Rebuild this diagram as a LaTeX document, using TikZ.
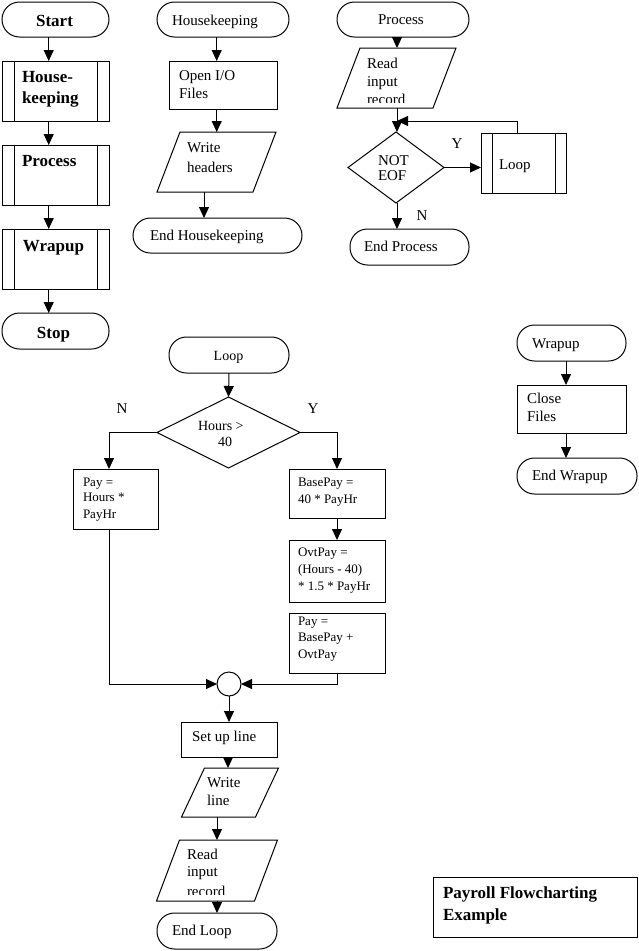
\documentclass[tikz,border=0pt]{standalone}
\usepackage{fontspec}
\setmainfont{Liberation Serif}
\usetikzlibrary{arrows.meta,calc}
\tikzset{
  ln/.style={line width=1pt},
  arr/.style={line width=1pt,-{Triangle[length=11pt,width=10pt]}},
  shp/.style={draw,line width=1pt,inner sep=0pt,outer sep=0pt},
  term/.style={shp,rounded corners=17.5pt},
  inv/.style={inner sep=0pt,outer sep=0pt},
  reg/.style={inner sep=0pt,outer sep=0pt,anchor=base west,font=\fontsize{15}{18}\selectfont},
  midt/.style={inner sep=0pt,outer sep=0pt,anchor=base west,font=\fontsize{14}{17}\selectfont},
  smt/.style={inner sep=0pt,outer sep=0pt,anchor=base west,font=\fontsize{13}{16}\selectfont},
  bld/.style={inner sep=0pt,outer sep=0pt,anchor=base west,font=\fontsize{17}{20}\selectfont\bfseries},
}
\newcommand\drawpara[1]{\draw[ln] ($(#1.north west)+(11.5,0)$) -- ($(#1.north east)+(11.5,0)$) -- ($(#1.south east)+(-11.5,0)$) -- ($(#1.south west)+(-11.5,0)$) -- cycle;}
\newcommand\drawdiam[1]{\draw[ln] (#1.north) -- (#1.east) -- (#1.south) -- (#1.west) -- cycle;}
\newcommand\drawpredef[2]{\draw[ln] ($(#1.north west)+(#2,0)$) -- ($(#1.south west)+(#2,0)$); \draw[ln] ($(#1.north east)+(-#2,0)$) -- ($(#1.south east)+(-#2,0)$);}
\begin{document}
\begin{tikzpicture}[x=1pt,y=-1pt]
\useasboundingbox (0,0) rectangle (639,951);
% ---------- x positions of connectors
\coordinate (xl) at (48.7,0);
\coordinate (xh) at (216.7,0);
\coordinate (xw) at (204,0);
\coordinate (xp) at (397,0);
\coordinate (xr) at (517,0);
\coordinate (xwr) at (566,0);
\coordinate (xn) at (109,0);
\coordinate (xy) at (337,0);
\coordinate (xs) at (228,0);
\coordinate (xrl) at (217,0);
\coordinate (ret) at (397,121);
% ---------- main column
\node[term,minimum width=107pt,minimum height=35pt] (start) at (55.5,19.5) {};
\node[shp,minimum width=107pt,minimum height=60pt] (phk) at (55.5,91) {};
\node[shp,minimum width=107pt,minimum height=60pt] (pproc) at (55.5,175) {};
\node[shp,minimum width=107pt,minimum height=60pt] (pwrap) at (55.5,259) {};
\node[term,minimum width=107pt,minimum height=36pt] (stop) at (55.5,331) {};
\drawpredef{phk}{12}
\drawpredef{pproc}{12}
\drawpredef{pwrap}{12}
\node[bld,anchor=base] (tstart) at (54.5,26.7) {Start};
\node[bld] (thk1) at (22,82.7) {House-};
\node[bld] (thk2) at (22,103.5) {keeping};
\node[bld] (tproc) at (22,166.7) {Process};
\node[bld] (twrap) at (23,251.7) {Wrapup};
\node[bld,anchor=base] (tstop) at (53.5,338) {Stop};
\draw[arr] (start.south -| xl) -- (phk.north -| xl);
\draw[arr] (phk.south -| xl) -- (pproc.north -| xl);
\draw[arr] (pproc.south -| xl) -- (pwrap.north -| xl);
\draw[arr] (pwrap.south -| xl) -- (stop.north -| xl);
% ---------- Housekeeping
\node[term,minimum width=132pt,minimum height=35pt] (hk) at (223,19.5) {};
\node[shp,minimum width=108pt,minimum height=48pt] (openio) at (223,85) {};
\node[inv,minimum width=96pt,minimum height=60pt] (wh) at (216.5,162) {};
\drawpara{wh}
\node[term,minimum width=169pt,minimum height=35pt] (ehk) at (217.5,235.5) {};
\node[reg] (thk) at (172,25) {Housekeeping};
\node[reg] (to1) at (179,80.7) {Open I/O};
\node[reg] (to2) at (179,98) {Files};
\node[reg] (tw1) at (187,152) {Write};
\node[reg] (tw2) at (187,172) {headers};
\node[reg] (tehk) at (150,240.7) {End Housekeeping};
\draw[arr] (hk.south -| xh) -- (openio.north -| xh);
\draw[arr] (openio.south -| xh) -- (wh.north -| xh);
\draw[arr] (wh.south -| xw) -- (ehk.north -| xw);
% ---------- Process
\node[term,minimum width=132pt,minimum height=35pt] (proc) at (403,19.5) {};
\node[inv,minimum width=96pt,minimum height=60pt] (rir1) at (396.5,78) {};
\drawpara{rir1}
\node[inv,minimum width=96pt,minimum height=71pt] (eof) at (396,167.5) {};
\drawdiam{eof}
\node[shp,minimum width=85pt,minimum height=60pt] (ploop) at (523.5,163) {};
\drawpredef{ploop}{11}
\node[term,minimum width=119pt,minimum height=36pt] (eproc) at (409.5,247) {};
\node[reg] (tpr) at (378,24) {Process};
\node[reg] (tr1) at (367,68.3) {Read};
\node[reg] (tr2) at (367,86) {input};
\begin{scope}
\clip (300,90) rectangle (470,102.5);
\node[reg] (tr3) at (367,104) {record};
\end{scope}
\node[reg] (tn1) at (378,165) {NOT};
\node[reg] (tn2) at (378,180) {EOF};
\node[reg,anchor=base] (ty1) at (457,148.5) {Y};
\node[reg] (tlp) at (499,169) {Loop};
\node[reg,anchor=base] (tn3) at (422,220.7) {N};
\node[reg] (tep) at (364,251.7) {End Process};
\draw[arr] (proc.south -| xp) -- (rir1.north -| xp);
\draw[arr] (rir1.south -| xp) -- (eof.north -| xp);
\draw[arr] (eof.east) -- (eof.east -| ploop.west);
\draw[arr] (ploop.north -| xr) |- (ret);
\draw[arr] (eof.south -| xp) -- (eproc.north -| xp);
% ---------- Wrapup
\node[term,minimum width=109pt,minimum height=36pt] (wrap) at (571.5,343) {};
\node[shp,minimum width=109pt,minimum height=48pt] (close) at (571.5,409) {};
\node[term,minimum width=120pt,minimum height=36pt] (ewrap) at (577,476) {};
\node[reg] (twr) at (532,348.3) {Wrapup};
\node[reg] (tc1) at (527,403) {Close};
\node[reg] (tc2) at (527,421.7) {Files};
\node[reg] (tew) at (532,480) {End Wrapup};
\draw[arr] (wrap.south -| xwr) -- (close.north -| xwr);
\draw[arr] (close.south -| xwr) -- (ewrap.north -| xwr);
% ---------- Loop
\node[term,minimum width=120pt,minimum height=36pt] (loopt) at (229,355) {};
\node[inv,minimum width=143pt,minimum height=71pt] (hours) at (228.5,432.5) {};
\drawdiam{hours}
\node[shp,minimum width=85pt,minimum height=60pt] (paya) at (115.5,499) {};
\node[shp,minimum width=96pt,minimum height=49pt] (base) at (337,493.5) {};
\node[shp,minimum width=96pt,minimum height=62pt] (ovt) at (337,571) {};
\node[shp,minimum width=96pt,minimum height=60pt] (payb) at (337,643) {};
\node[shp,circle,minimum size=24pt] (conn) at (229,684) {};
\node[shp,minimum width=96pt,minimum height=35pt] (setup) at (229,739.5) {};
\node[inv,minimum width=74pt,minimum height=49pt] (wl) at (230,792.5) {};
\drawpara{wl}
\node[inv,minimum width=98pt,minimum height=61pt] (rir2) at (217,870.5) {};
\drawpara{rir2}
\node[term,minimum width=120pt,minimum height=36pt] (eloop) at (217,931) {};
\node[shp,minimum width=204pt,minimum height=60pt] (title) at (535,907) {};
\node[midt,anchor=base] (tloop) at (228.5,360) {Loop};
\node[midt] (th1) at (198,430.7) {Hours >};
\node[midt] (th2) at (218,446.7) {40};
\node[reg,anchor=base] (tn4) at (122,413.3) {N};
\node[reg,anchor=base] (ty2) at (313,413.3) {Y};
\node[smt] (tpa1) at (83,486.7) {Pay =};
\node[smt] (tpa2) at (83,501.7) {Hours *};
\node[smt] (tpa3) at (83,518.3) {PayHr};
\node[smt] (tb1) at (298,486.7) {BasePay =};
\node[smt] (tb2) at (298,503.3) {40 * PayHr};
\node[smt] (tov1) at (298,556.7) {OvtPay =};
\node[smt] (tov2) at (298,573.3) {(Hours - 40)};
\node[smt] (tov3) at (298,590) {* 1.5 * PayHr};
\node[smt] (tpb1) at (298,625) {Pay =};
\node[smt] (tpb2) at (298,641.7) {BasePay +};
\node[smt] (tpb3) at (298,658.3) {OvtPay};
\node[reg] (tsu) at (192,741.7) {Set up line};
\node[reg] (twl1) at (207,787.3) {Write};
\node[reg] (twl2) at (207,805) {line};
\node[reg] (trr1) at (187,859.3) {Read};
\node[reg] (trr2) at (187,876.7) {input};
\begin{scope}
\clip (150,882) rectangle (280,894.5);
\node[reg] (trr3) at (187,896) {record};
\end{scope}
\node[reg] (tel) at (172,935) {End Loop};
\node[bld] (tt1) at (443,898.3) {Payroll Flowcharting};
\node[bld] (tt2) at (443,920.7) {Example};
\draw[arr] (loopt.south) -- (hours.north);
\draw[arr] (hours.west) -| (paya.north -| xn);
\draw[arr] (hours.east) -| (base.north -| xy);
\draw[arr] (base.south -| xy) -- (ovt.north -| xy);
\draw[arr] (paya.south -| xn) |- (conn.west);
\draw[arr] (payb.south -| xy) |- (conn.east);
\draw[arr] (conn.south) -- (setup.north);
\draw[arr] (setup.south -| xs) -- (wl.north -| xs);
\draw[arr] (wl.south -| xrl) -- (rir2.north -| xrl);
\draw[arr] (rir2.south -| xrl) -- (eloop.north -| xrl);
\end{tikzpicture}
\end{document}
